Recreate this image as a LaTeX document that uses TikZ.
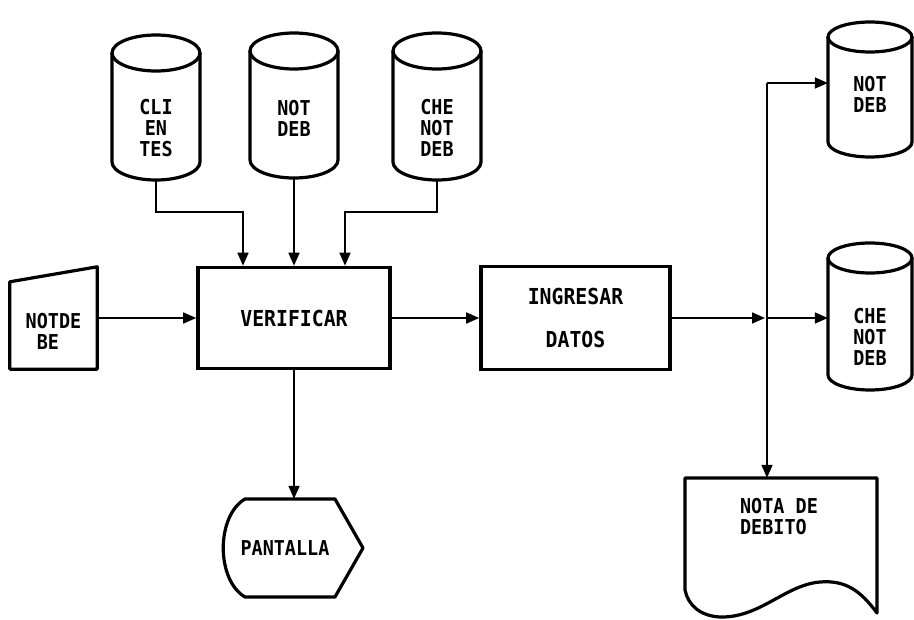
\documentclass[tikz,border=0pt]{standalone}
\usepackage{fontspec}
\newfontfamily\diagfont[FakeStretch=0.9]{DejaVu Sans Mono}
\usetikzlibrary{arrows.meta,calc}
% #1 name, #2 cx, #3 y of top ellipse centre, #4 y of bottom ellipse centre, #5 rx, #6 ry, #7 text, #8 text y
\newcommand\drumshape[8]{%
  \draw[shp] ({#2-#5},#3) -- ({#2-#5},#4) arc[start angle=180,end angle=360,x radius=#5pt,y radius=#6pt] -- ({#2+#5},#3);
  \draw[shp] (#2,#3) ellipse[x radius=#5pt,y radius=#6pt];
  \node[inner sep=0pt,minimum width={2*#5pt},minimum height={(#4-#3)*1pt}] (#1) at (#2,{(#3+#4)/2+#6}) {};
  \node[lbl] at (#2,#8) {#7};
}
\begin{document}
\begin{tikzpicture}[x=1pt,y=-1pt,
  shp/.style={line width=3.2pt,line join=round},
  conn/.style={line width=1.6pt},
  arr/.style={conn,-{Triangle[length=13pt,width=11pt]}},
  lbl/.style={inner sep=0pt,align=center,font=\diagfont\bfseries\fontsize{20.5}{21}\selectfont},
  procbox/.style={draw,line width=3.6pt,inner sep=0pt,align=center,font=\diagfont\bfseries\fontsize{22}{23}\selectfont},
  region/.style={inner sep=0pt}]
\useasboundingbox (0,0) rectangle (914,620);

% data stores
\drumshape{clientes}{156}{53}{162}{44}{18}{CLI\\EN\\TES}{128}
\drumshape{notdeb}{294}{51}{160}{44}{18}{NOT\\DEB}{118}
\drumshape{chenotdeb}{437}{51}{162}{44}{18}{CHE\\NOT\\DEB}{128}
\drumshape{notdebR}{870}{37}{142}{42}{15}{NOT\\DEB}{94}
\drumshape{chenotdebR}{870}{258}{375}{42}{15}{CHE\\NOT\\DEB}{337}

% manual input
\node[region,minimum width=87pt,minimum height=102pt] (notdebe) at (53.5,318) {};
\draw[shp] ([yshift=-15pt]notdebe.north west) -- (notdebe.north east) -- (notdebe.south east) -- (notdebe.south west) -- cycle;
\node[lbl,align=left] at (53.5,331) {NOTDE\\\phantom{N}BE};

% processes
\node[procbox,minimum width=192pt,minimum height=101pt] (verificar) at (294,318) {VERIFICAR};
\node[procbox,minimum width=189pt,minimum height=103pt] (ingresar) at (575.5,318) {INGRESAR\\[20pt]DATOS};

% display
\node[region,minimum width=140pt,minimum height=98pt] (pantalla) at (293,548) {};
\draw[shp] (245,499) -- (335,499) -- (363,548) -- (335,597) -- (245,597) .. controls (216,580) and (216,516) .. (245,499) -- cycle;
\node[lbl] at (285,548) {PANTALLA};

% document
\node[region,minimum width=192pt,minimum height=122pt] (doc) at (781,539) {};
\draw[shp] (685,478) -- (877,478) -- (877,613) .. controls (860,590) and (845,580) .. (820,582)
  .. controls (785,585) and (760,618) .. (720,617) .. controls (700,616) and (688,605) .. (685,590) -- cycle;
\node[lbl,align=left] at (779,517) {NOTA DE\\DEBITO};

% connectors
\draw[arr] (clientes.south) -- (clientes.south |- 0,212) -| ([xshift=-51pt]verificar.north);
\draw[arr] (notdeb.south) -- (notdeb.south |- verificar.north);
\draw[arr] (chenotdeb.south) -- (chenotdeb.south |- 0,212) -| ([xshift=51pt]verificar.north);
\draw[arr] (notdebe.east) -- (verificar.west);
\draw[arr] (verificar.east) -- (ingresar.west);
\draw[arr] (verificar.south) -- (verificar.south |- pantalla.north);

\coordinate (jtop) at (767,83);
\coordinate (jmid) at (767,318);
\draw[arr,shorten >=2pt] (ingresar.east) -- (jmid);
\draw[arr] (jtop) -- (jtop |- doc.north);
\draw[arr] (jtop) -- (jtop -| notdebR.west);
\draw[arr] (jmid) -- (jmid -| chenotdebR.west);
\end{tikzpicture}
\end{document}
